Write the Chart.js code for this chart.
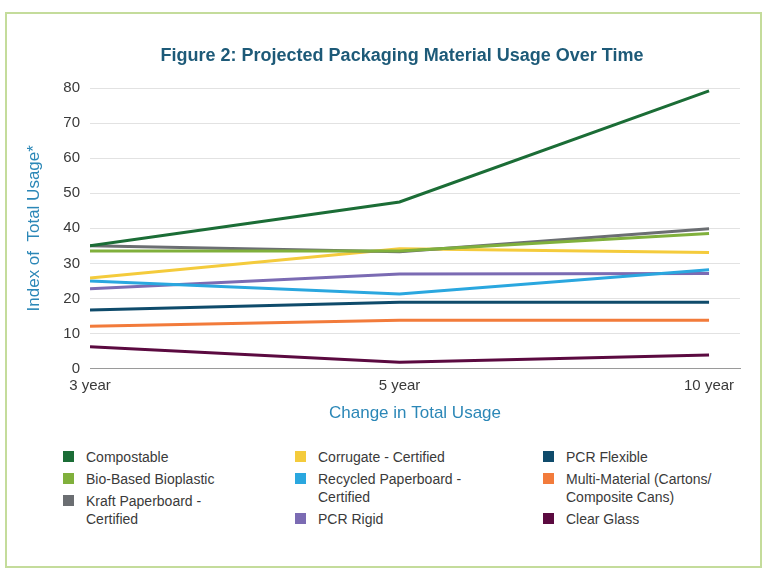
<!DOCTYPE html>
<html>
<head>
<meta charset="utf-8">
<title>Projected Packaging Material Usage</title>
<script src="https://cdn.jsdelivr.net/npm/chart.js@4.4.1/dist/chart.umd.min.js"></script>
<style>
  body { margin: 0; background: #fff; font-family: "Liberation Sans", Arial, sans-serif; }
  #frame { position: absolute; left: 5px; top: 12px; width: 753px; height: 552px; border: 2px solid #c4dc9b; }
  #wrap { position: absolute; left: 0; top: 0; width: 768px; height: 440px; }
  #legend { position: absolute; left: 0; top: 448px; width: 768px; }
  .col { position: absolute; top: 0; }
  .item { display: flex; margin-bottom: 4px; font-size: 14px; color: #3a3a3a; line-height: 18px; white-space: pre-line; }
  .sw { width: 11px; height: 11px; margin: 3px 12px 0 0; flex: none; }
</style>
</head>
<body>
<div id="frame"></div>
<div id="wrap"><canvas id="chart" width="768" height="440"></canvas></div>
<div id="legend"></div>
<script>
// Categorias do eixo X
const periods = ['3 year', '5 year', '10 year'];

// Nomes das séries (\n = quebra de linha na legenda)
const seriesNames = [
  'Compostable',
  'Bio-Based Bioplastic',
  'Kraft Paperboard -\nCertified',
  'Corrugate - Certified',
  'Recycled Paperboard -\nCertified',
  'PCR Rigid',
  'PCR Flexible',
  'Multi-Material (Cartons/\nComposite Cans)',
  'Clear Glass'
];

// Valores (índice de uso total)
const compostable   = [35, 47.5, 79.2];
const bioBased      = [33.5, 33.5, 38.5];
const kraft         = [35, 33.3, 39.9];
const corrugate     = [25.8, 34.2, 33.1];
const recycled      = [25, 21.3, 28.2];
const pcrRigid      = [22.8, 27, 27.1];
const pcrFlexible   = [16.7, 18.9, 18.9];
const multiMaterial = [12.1, 13.8, 13.8];
const clearGlass    = [6.2, 1.8, 3.9];

const seriesValues = [compostable, bioBased, kraft, corrugate, recycled, pcrRigid, pcrFlexible, multiMaterial, clearGlass];

const colors = ['#1b6d36', '#80b03c', '#6b6e72', '#f4cb3c', '#2aa7df', '#7b6bb3', '#0f4b6b', '#f27b3b', '#5b0a40'];

const yTicks = [0, 10, 20, 30, 40, 50, 60, 70, 80];

const chartTitle = 'Figure 2: Projected Packaging Material Usage Over Time';

// Título desenhado à mão (o título do Chart.js só centraliza na largura toda)
const titlePlugin = {
    id: 'figTitle',
    afterDraw(chart) {
        const c = chart.ctx;
        c.save();
        c.font = 'bold 18px "Liberation Sans", Arial, sans-serif';
        c.fillStyle = '#1d5a78';
        c.textAlign = 'center';
        c.textBaseline = 'middle';
        c.fillText(chartTitle, 402, 56);
        c.restore();
    }
};

document.addEventListener("DOMContentLoaded", () => {
    const ctx = document.getElementById('chart').getContext('2d');

    const datasets = seriesNames.map((name, i) => ({
        label: name.replace('\n', ' '),
        data: seriesValues[i].map((v, j) => ({ x: j, y: v })),
        borderColor: colors[i],
        backgroundColor: colors[i],
        borderWidth: 3,
        pointRadius: 0,
        tension: 0
    }));

    new Chart(ctx, {
        type: 'line',
        data: { datasets },
        plugins: [titlePlugin],
        options: {
            responsive: false,
            animation: false,
            events: [],
            layout: { padding: { top: 88, left: 20, right: 28, bottom: 12 } },
            plugins: {
                legend: { display: false },
                tooltip: { enabled: false }
            },
            scales: {
                x: {
                    type: 'linear',
                    min: 0,
                    max: 2.1,
                    afterBuildTicks: axis => { axis.ticks = periods.map((p, i) => ({ value: i })); },
                    ticks: {
                        callback: v => periods[v],
                        color: '#3a3a3a',
                        font: { family: 'Liberation Sans', size: 15 },
                        padding: 8,
                        maxRotation: 0
                    },
                    grid: { display: false, drawTicks: false },
                    border: { color: '#9a9a9a' },
                    title: {
                        display: true,
                        text: 'Change in Total Usage',
                        color: '#2b87b7',
                        font: { family: 'Liberation Sans', size: 17 },
                        padding: { top: 1, bottom: 4 }
                    }
                },
                y: {
                    min: 0,
                    max: 80,
                    afterBuildTicks: axis => { axis.ticks = yTicks.map(v => ({ value: v })); },
                    afterFit: s => { s.width = 70; },
                    ticks: {
                        color: '#3a3a3a',
                        font: { family: 'Liberation Sans', size: 15 },
                        padding: 10
                    },
                    grid: {
                        drawTicks: false,
                        color: c => c.tick && c.tick.value === 0 ? '#9a9a9a' : '#e2e2e2'
                    },
                    border: { display: false },
                    title: {
                        display: true,
                        text: 'Index of  Total Usage*',
                        color: '#2b87b7',
                        font: { family: 'Liberation Sans', size: 17 }
                    }
                }
            }
        }
    });

    // Legenda em três colunas
    const legend = document.getElementById('legend');
    const colLeft = [63, 295, 543];
    colLeft.forEach((left, c) => {
        const col = document.createElement('div');
        col.className = 'col';
        col.style.left = left + 'px';
        for (let k = 0; k < 3; k++) {
            const i = c * 3 + k;
            const item = document.createElement('div');
            item.className = 'item';
            const sw = document.createElement('span');
            sw.className = 'sw';
            sw.style.background = colors[i];
            const txt = document.createElement('span');
            txt.textContent = seriesNames[i];
            item.appendChild(sw);
            item.appendChild(txt);
            col.appendChild(item);
        }
        legend.appendChild(col);
    });
});
</script>
</body>
</html>
